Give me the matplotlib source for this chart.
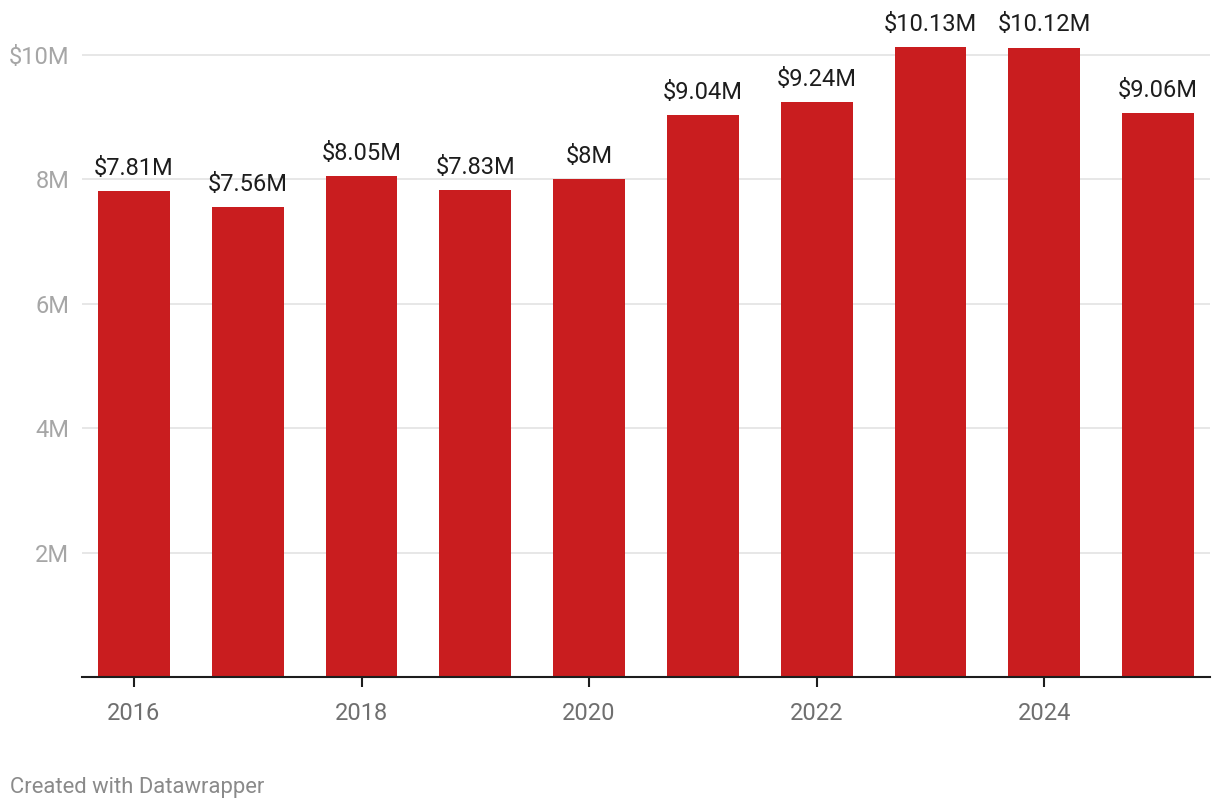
import matplotlib

matplotlib.use("Agg")
import matplotlib.pyplot as plt
import numpy as np

years = [2016, 2017, 2018, 2019, 2020, 2021, 2022, 2023, 2024, 2025]
values = [7.81, 7.56, 8.05, 7.83, 8.00, 9.04, 9.24, 10.13, 10.12, 9.06]
value_labels = ["$7.81M", "$7.56M", "$8.05M", "$7.83M", "$8M",
                "$9.04M", "$9.24M", "$10.13M", "$10.12M", "$9.06M"]
y_ticks = [2, 4, 6, 8, 10]
y_tick_labels = ["2M", "4M", "6M", "8M", "$10M"]
x_tick_years = [2016, 2018, 2020, 2022, 2024]

plt.rcParams["font.family"] = ["Roboto", "DejaVu Sans"]

fig = plt.figure(figsize=(12.2, 8.1), dpi=100)
ax = fig.add_axes([0.0672, 0.1642, 0.9246, 0.8063])

positions = np.arange(len(years))
ax.bar(positions, values, width=0.63, color="#c91d1f", zorder=3)

for pos, val, label in zip(positions, values, value_labels):
    ax.annotate(label, (pos, val), xytext=(0, 8), textcoords="offset points",
                ha="center", va="bottom", fontsize=17, color="#1d1d1d")

ax.set_xlim(-0.457, len(years) - 1 + 0.457)
ax.set_ylim(0, 10.5)

ax.set_yticks(y_ticks)
ax.set_yticklabels(y_tick_labels)
ax.tick_params(axis="y", length=0, pad=9, labelsize=17, labelcolor="#a6a6a6")
ax.grid(axis="y", color="#e3e3e3", linewidth=1.2, zorder=0)

x_tick_pos = [years.index(y) for y in x_tick_years]
ax.set_xticks(x_tick_pos)
ax.set_xticklabels([str(y) for y in x_tick_years])
ax.tick_params(axis="x", length=7, width=1.5, color="#1d1d1d", pad=11,
               labelsize=17, labelcolor="#6f6f6f")

for side in ["top", "right", "left"]:
    ax.spines[side].set_visible(False)
ax.spines["bottom"].set_color("#1d1d1d")
ax.spines["bottom"].set_linewidth(1.5)
ax.spines["bottom"].set_zorder(4)

fig.text(10 / 1220, 1 - 787 / 810, "Created with Datawrapper", fontsize=15.8,
         color="#8a8a8a", ha="left", va="center")

fig.savefig("out.png", dpi=100)
plt.close(fig)
